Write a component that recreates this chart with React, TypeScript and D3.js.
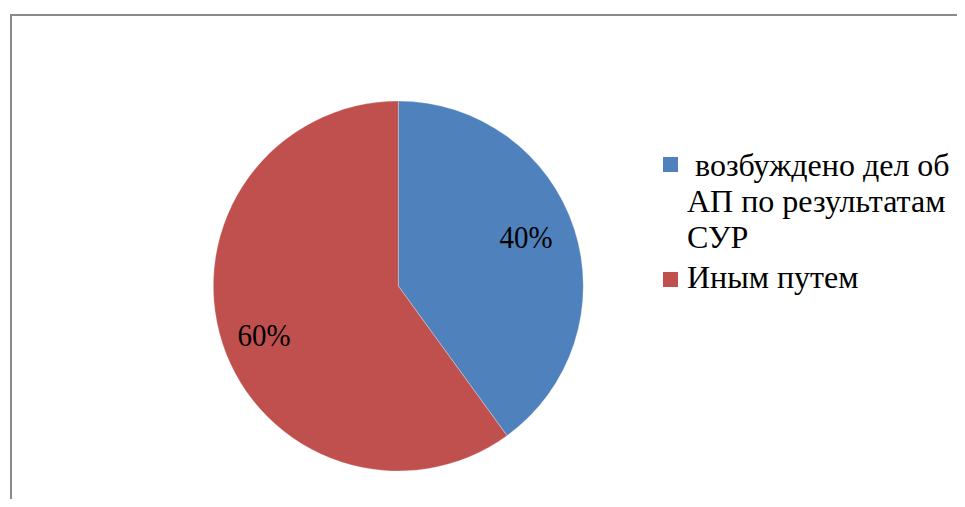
import React, { useEffect, useRef } from "react";
import * as d3 from "d3";

const legendLines = [[" возбуждено дел об", "АП по результатам", "СУР"], ["Иным путем"]];
const values = [40, 60];
const labels = ["40%", "60%"];
const colors = ["#4F81BD", "#C0504D"];
const fontNames = ["Liberation Serif"];

export default function App() {
  const W = 965, H = 507;
  const ref = useRef<SVGSVGElement>(null);
  useEffect(() => {
    const svg = d3.select(ref.current);
    svg.selectAll("*").remove();
    const cx = 398.3, cy = 286, r = 185;
    const ff = `"${fontNames[0]}"`;
    svg.append("rect").attr("width", W).attr("height", H).attr("fill", "#fff");
    svg.append("line").attr("x1", 11).attr("y1", 15).attr("x2", W).attr("y2", 15).attr("stroke", "#8a8a8a").attr("stroke-width", 2);
    svg.append("line").attr("x1", 11).attr("y1", 14).attr("x2", 11).attr("y2", H).attr("stroke", "#8a8a8a").attr("stroke-width", 2);
    const pie = d3.pie<number>().sort(null).value((d) => d)(values);
    const arc = d3.arc<d3.PieArcDatum<number>>().innerRadius(0).outerRadius(r);
    svg
      .append("g")
      .attr("transform", `translate(${cx},${cy})`)
      .selectAll("path")
      .data(pie)
      .join("path")
      .attr("d", (d) => arc(d) || "")
      .attr("fill", (_, i) => colors[i])
      .attr("stroke", "#fff")
      .attr("stroke-opacity", 0.4)
      .attr("stroke-width", 0.7);
    const labelPos = [
      [526, 248],
      [264, 346],
    ];
    labels.forEach((t, i) => {
      svg
        .append("text")
        .attr("x", labelPos[i][0])
        .attr("y", labelPos[i][1])
        .attr("text-anchor", "middle")
        .attr("textLength", 53)
        .attr("lengthAdjust", "spacingAndGlyphs")
        .style("font-family", ff)
        .style("font-size", "31px")
        .text(t);
    });
    legendLines.forEach((lines, i) => {
      const top = i === 0 ? 157 : 272;
      const base = i === 0 ? 176 : 288;
      svg.append("rect").attr("x", 663).attr("y", top).attr("width", 15).attr("height", 15).attr("fill", colors[i]);
      lines.forEach((ln, j) => {
        svg
          .append("text")
          .attr("x", 687)
          .attr("y", base + j * 36)
          .style("font-family", ff)
          .style("font-size", "32px")
          .style("white-space", "pre")
          .text(ln);
      });
    });
  }, []);
  return <svg ref={ref} width={W} height={H} style={{ display: "block", margin: "-8px" }} />;
}
